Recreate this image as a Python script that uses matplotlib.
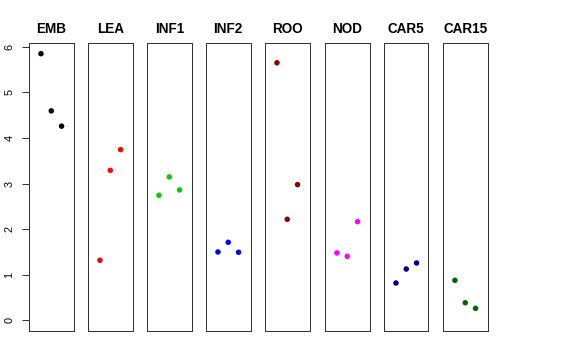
import matplotlib
matplotlib.use("Agg")
import matplotlib.pyplot as plt

groups = ["EMB", "LEA", "INF1", "INF2", "ROO", "NOD", "CAR5", "CAR15"]
values = {
    "EMB":   [5.85, 4.595, 4.26],
    "LEA":   [1.317, 3.29, 3.745],
    "INF1":  [2.744, 3.146, 2.86],
    "INF2":  [1.50, 1.712, 1.493],
    "ROO":   [5.65, 2.217, 2.977],
    "NOD":   [1.478, 1.405, 2.165],
    "CAR5":  [0.819, 1.126, 1.258],
    "CAR15": [0.878, 0.386, 0.263],
}
colors = ["#000000", "#FF0000", "#00CD00", "#0000FF", "#8B0000", "#FF00FF", "#00008B", "#006400"]
yticks = [0, 1, 2, 3, 4, 5, 6]

plt.rcParams['font.family'] = ['Liberation Sans', 'DejaVu Sans']

W, H = 576, 360
fig = plt.figure(figsize=(W / 72, H / 72), dpi=72)

ymax = max(max(v) for v in values.values())
ylo, yhi = 0, ymax
pad = 0.04 * (yhi - ylo)

top_px, bot_px = 43, 331
lefts = [29, 88, 147, 206, 265, 325, 384, 443]
pw = 44.5

for i, (g, c) in enumerate(zip(groups, colors)):
    ax = fig.add_axes([lefts[i] / W, (H - bot_px) / H, pw / W, (bot_px - top_px) / H])
    xs = [1, 2, 3]
    ax.scatter(xs, values[g], s=5.5 ** 2, color=c, edgecolors='none', zorder=3)
    ax.set_xlim(0 - 0.16, 4 + 0.16)
    ax.set_ylim(ylo - pad, yhi + pad)
    ax.set_xticks([])
    for sp in ax.spines.values():
        sp.set_color('#333333')
        sp.set_linewidth(1.0)
    ax.set_title(g, fontsize=13.5, fontweight='bold', pad=9.5)
    if i == 0:
        ax.set_yticks(yticks)
        ax.set_yticklabels([str(t) for t in yticks], rotation=90, va='center', fontsize=11)
        ax.tick_params(axis='y', length=7.5, width=1, color='#333333', pad=7)
    else:
        ax.set_yticks([])

fig.savefig("out.png", dpi=72)
